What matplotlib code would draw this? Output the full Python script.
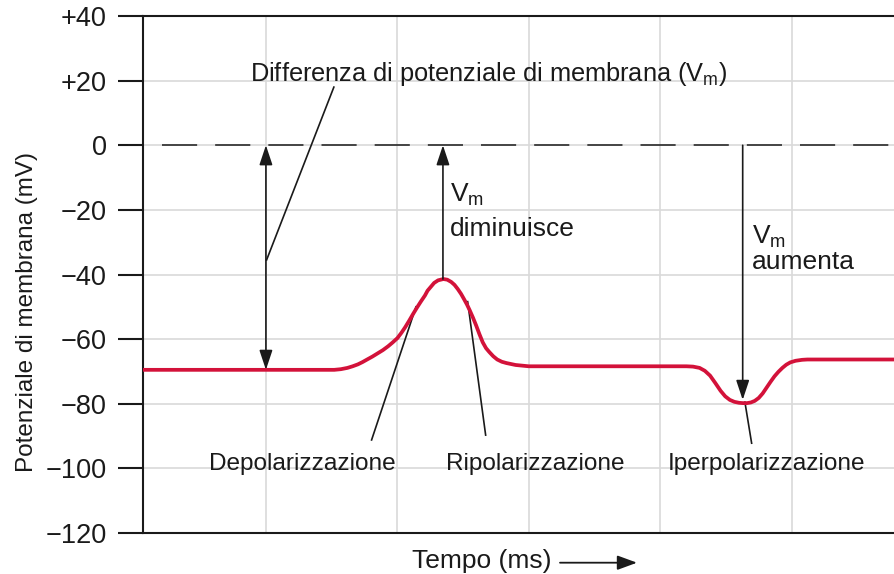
import matplotlib
matplotlib.use("Agg")
import matplotlib.pyplot as plt
from matplotlib.patches import FancyArrowPatch

plt.rcParams['font.family'] = ['Liberation Sans', 'DejaVu Sans']
plt.rcParams['mathtext.fontset'] = 'custom'
plt.rcParams['mathtext.rm'] = 'Liberation Sans'
plt.rcParams['mathtext.it'] = 'Liberation Sans:italic'

# membrane potential trace (time in grid units, mV)
t = [0.062, 1.52, 1.57, 1.62, 1.66, 1.70, 1.735, 1.77, 1.81, 1.85, 1.89, 1.93,
     1.965, 2.00, 2.03, 2.06, 2.09, 2.12, 2.15, 2.18, 2.21, 2.23, 2.255, 2.28,
     2.31, 2.35, 2.38, 2.41, 2.435, 2.46, 2.485, 2.51, 2.53, 2.55, 2.575,
     2.60, 2.625, 2.65, 2.675, 2.70, 2.73, 2.76, 2.795, 2.83, 2.90, 3.00,
     4.20, 4.25, 4.30, 4.34, 4.38, 4.42, 4.46, 4.495, 4.53, 4.565, 4.60, 4.63,
     4.66, 4.69, 4.72, 4.75, 4.78, 4.81, 4.84, 4.87, 4.90, 4.93, 4.96, 4.99,
     5.03, 5.08, 5.12, 5.79]
vm = [-69.5, -69.5, -69.3, -68.9, -68.4, -67.8, -67.1, -66.3, -65.4, -64.4,
      -63.4, -62.2, -61.0, -59.7, -58.1, -56.3, -54.3, -52.2, -50.2, -48.3,
      -46.5, -45.0, -43.8, -42.6, -41.8, -41.4, -41.6, -42.3, -43.2, -44.5,
      -46.0, -47.8, -49.3, -51.0, -53.3, -55.8, -58.5, -61.0, -62.8, -64.0,
      -65.3, -66.3, -67.0, -67.4, -68.0, -68.4,
      -68.4, -68.5, -68.9, -69.8, -71.3, -73.6, -76.0, -77.7, -78.8, -79.4,
      -79.7, -79.8, -79.8, -79.6, -79.1, -78.2, -76.8, -75.0, -73.2, -71.5,
      -70.1, -68.9, -67.9, -67.2, -66.7, -66.4, -66.3, -66.3]

yticks = [-120, -100, -80, -60, -40, -20, 0, 20, 40]
ytick_labels = ['\u2212120', '\u2212100', '\u221280', '\u221260', '\u221240',
                '\u221220', '0', '+20', '+40']
xgrid = [1, 2, 3, 4, 5]

resting = -69.5
peak = (2.347, -41.4)
trough = (4.628, -78.8)

dark = '#1a1a1a'
red = '#d3123a'

fig = plt.figure(figsize=(8.95, 5.74), dpi=100)
ax = fig.add_axes([0.1594, 0.0714, 0.8406, 0.9007])
ax.set_xlim(0.062, 5.787)
ax.set_ylim(-120, 40)

ax.set_yticks(yticks)
ax.set_yticklabels(ytick_labels, fontsize=19.5)
ax.set_xticks(xgrid)
ax.tick_params(axis='x', length=0, labelbottom=False)
ax.tick_params(axis='y', length=18, width=1.5, pad=8, color=dark, labelcolor=dark)
ax.grid(True, color='#d9d9d9', lw=1.2)
ax.set_axisbelow(True)
for s in ['left', 'bottom', 'top']:
    ax.spines[s].set_linewidth(1.5)
    ax.spines[s].set_color(dark)
ax.spines['right'].set_visible(False)

# zero line
ax.plot([0.21, 5.787], [0, 0], color=dark, lw=1.1, dashes=(23, 11.8))

# trace
ax.plot(t, vm, color=red, lw=2.7, solid_capstyle='round',
        solid_joinstyle='round', zorder=3)

arrow = dict(color=dark, lw=1.2, shrinkA=0, shrinkB=0, mutation_scale=20)
ax.annotate('', xy=(1.0, 0), xytext=(1.0, resting),
            arrowprops=dict(arrowstyle='<|-|>,head_length=0.6,head_width=0.2', **arrow))
ax.annotate('', xy=(peak[0], 0), xytext=peak,
            arrowprops=dict(arrowstyle='-|>,head_length=0.6,head_width=0.2', **arrow))
ax.annotate('', xy=trough, xytext=(trough[0], 0),
            arrowprops=dict(arrowstyle='-|>,head_length=0.6,head_width=0.2', **arrow))

# leader lines
ax.plot([1.005, 1.517], [-35.5, 18.0], color=dark, lw=1.2)
ax.plot([2.142, 1.804], [-50.0, -91.2], color=dark, lw=1.2)
ax.plot([2.535, 2.672], [-48.4, -89.7], color=dark, lw=1.2)
ax.plot([4.645, 4.696], [-79.5, -92.2], color=dark, lw=1.2)

ax.text(0.878, 20.0, 'Differenza di potenziale di membrana (V$_\\mathrm{m}$)',
        va='baseline', ha='left', fontsize=18.3, color=dark)
ax.text(2.40, -17.5, 'V$_\\mathrm{m}$', va='baseline', ha='left', fontsize=19, color=dark)
ax.text(2.40, -28.0, 'diminuisce', va='baseline', ha='left', fontsize=19, color=dark)
ax.text(4.696, -30.4, 'V$_\\mathrm{m}$', va='baseline', ha='left', fontsize=19, color=dark)
ax.text(4.696, -38.4, 'aumenta', va='baseline', ha='left', fontsize=19, color=dark)
ax.text(1.28, -100.5, 'Depolarizzazione', va='baseline', ha='center', fontsize=17.6, color=dark)
ax.text(3.05, -100.5, 'Ripolarizzazione', va='baseline', ha='center', fontsize=17.6, color=dark)
ax.text(4.81, -100.5, 'Iperpolarizzazione', va='baseline', ha='center', fontsize=17.6, color=dark)

fig.text(0.03, 0.456, 'Potenziale di membrana (mV)', rotation=90,
         ha='center', va='center', fontsize=17.5, color=dark)
fig.text(411.7 / 895, 1 - 568 / 574, 'Tempo (ms)', ha='left', va='baseline',
         fontsize=19, color=dark)
fig.add_artist(FancyArrowPatch(
    (560 / 895, 1 - 562.7 / 574), (637 / 895, 1 - 562.7 / 574),
    transform=fig.transFigure, arrowstyle='-|>,head_length=0.6,head_width=0.22',
    mutation_scale=20, color=dark, lw=1.3, shrinkA=0, shrinkB=0))

fig.savefig('out.png', dpi=100)
